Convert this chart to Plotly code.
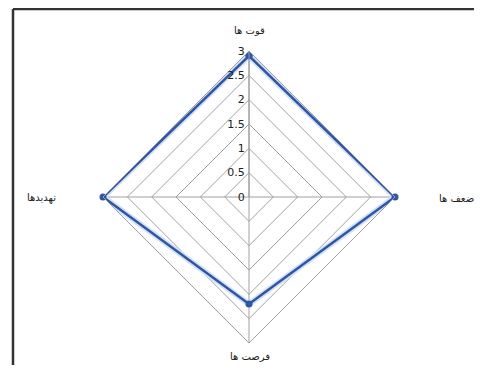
import plotly.graph_objects as go

categories = ["قوت ها", "ضعف ها", "فرصت ها", "تهدیدها"]
values = [2.9, 3.0, 2.2, 3.0]
tick_vals = [0, 0.5, 1, 1.5, 2, 2.5, 3]
tick_text = ["0", "0.5", "1", "1.5", "2", "2.5", "3"]

OFF = 8  # page body margin
W, H = 482 - 2 * OFF, 373 - 2 * OFF
cx, cy, R = 249 - OFF, 197 - OFF, 146

fig = go.Figure()
fig.add_trace(go.Scatterpolar(
    r=values + values[:1],
    theta=categories + categories[:1],
    mode="lines",
    line=dict(color="#D3E0F3", width=6),
    hoverinfo="skip",
    showlegend=False,
))
fig.add_trace(go.Scatterpolar(
    r=values + values[:1],
    theta=categories + categories[:1],
    mode="lines+markers",
    line=dict(color="#2F56A6", width=2.5),
    marker=dict(color="#2F56A6", size=7, symbol="circle"),
    showlegend=False,
))

# category labels placed outside the chart like the reference (page pixel coords)
label_pos = [(250, 30, "center"), (437, 198, "left"), (250, 356, "center"), (58, 198, "right")]
annotations = []
for (px, py, anchor), text in zip(label_pos, categories):
    annotations.append(dict(
        x=(px - OFF) / W, y=1 - (py - OFF) / H, xref="paper", yref="paper",
        text=text, showarrow=False, xanchor=anchor, yanchor="middle",
        font=dict(size=10, color="#222222"),
    ))

fx = (13 - OFF) / W
fy = 1 - (9 - OFF) / H

fig.update_layout(
    width=W, height=H,
    margin=dict(l=0, r=0, t=0, b=0),
    paper_bgcolor="white",
    plot_bgcolor="white",
    font=dict(family="DejaVu Sans, Noto Sans, sans-serif", color="#222222"),
    annotations=annotations,
    polar=dict(
        domain=dict(x=[(cx - R) / W, (cx + R) / W],
                    y=[(H - cy - R) / H, (H - cy + R) / H]),
        bgcolor="white",
        gridshape="linear",
        radialaxis=dict(
            range=[0, 3],
            tickvals=tick_vals,
            ticktext=tick_text,
            angle=90,
            tickangle=90,
            side="counterclockwise",
            showline=True,
            linecolor="#9A9A9A",
            linewidth=1,
            gridcolor="#A0A0A0",
            gridwidth=1,
            ticks="",
            tickfont=dict(size=11, color="#222222"),
        ),
        angularaxis=dict(
            rotation=90,
            direction="clockwise",
            showline=True,
            linecolor="#A0A0A0",
            linewidth=1,
            gridcolor="#A0A0A0",
            ticks="",
            showticklabels=False,
        ),
    ),
    shapes=[
        dict(type="line", xref="paper", yref="paper",
             x0=fx, x1=fx, y0=0, y1=fy,
             line=dict(color="#333333", width=2.5)),
        dict(type="line", xref="paper", yref="paper",
             x0=fx, x1=1, y0=fy, y1=fy,
             line=dict(color="#333333", width=2.5)),
    ],
)

fig.write_html("out.html")
